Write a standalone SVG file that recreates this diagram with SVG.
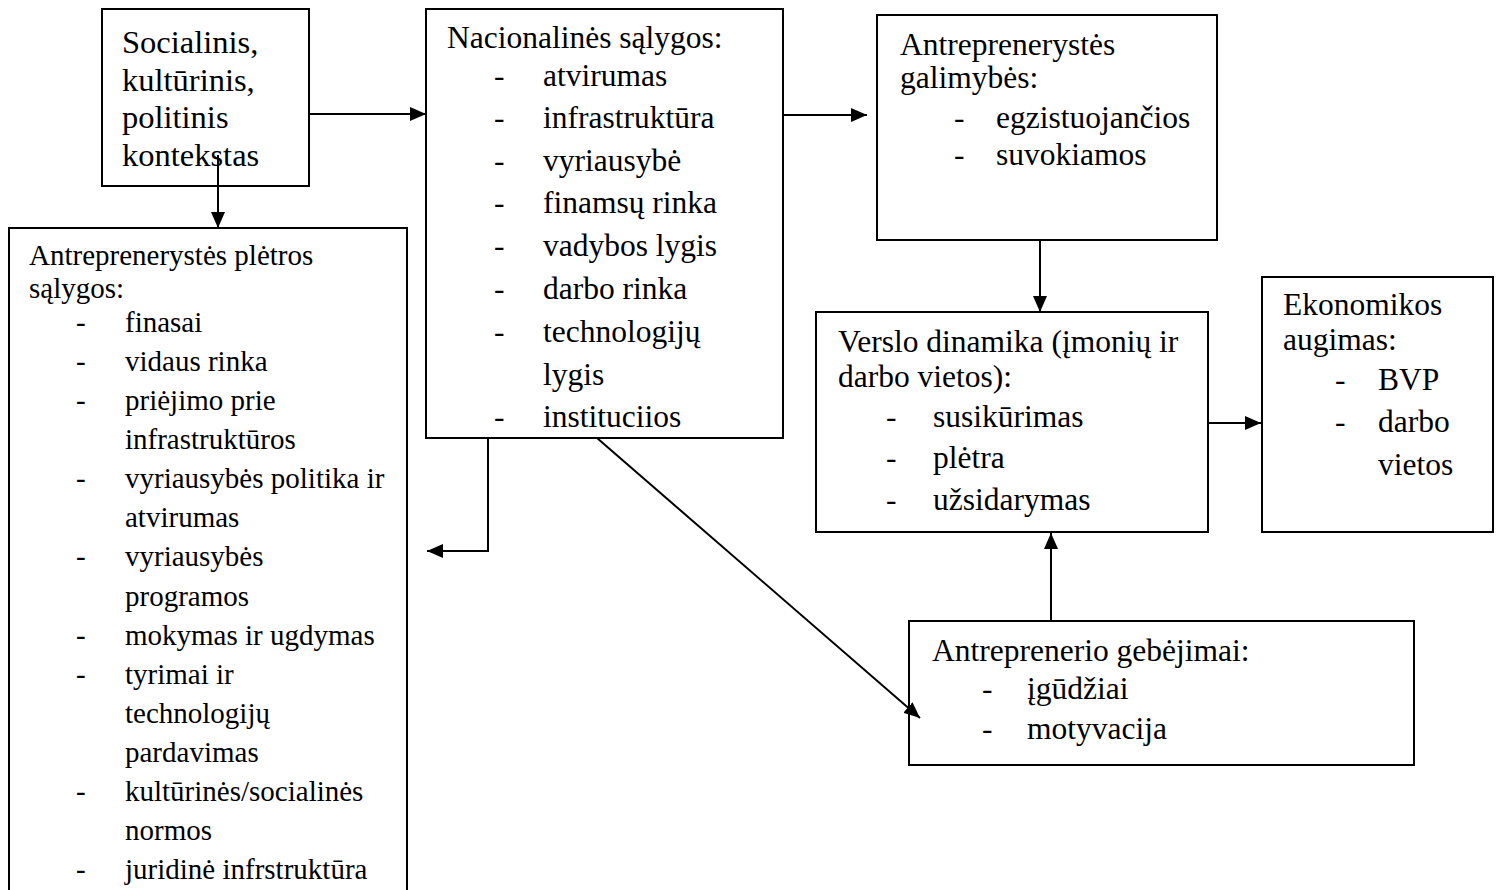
<svg xmlns="http://www.w3.org/2000/svg" width="1499" height="890" viewBox="0 0 1499 890">
<style>
.box{fill:#fff;stroke:#000;stroke-width:2}
.t{font-family:"Liberation Serif","Times New Roman",serif;font-size:31.5px;fill:#000}
.s{font-size:29px}
.b{font-size:32.5px}
.c{fill:none;stroke:#000;stroke-width:2}
</style>
<defs>
<marker id="ah" markerUnits="userSpaceOnUse" markerWidth="16" markerHeight="14" refX="16" refY="7" orient="auto">
<path d="M0,0 L16,7 L0,14 z" fill="#000"/>
</marker>
</defs>
<rect width="1499" height="890" fill="#fff"/>

<g id="n-kontekstas">
<rect class="box" x="102" y="9" width="207" height="177"/>
<text class="t b" x="122" y="53">Socialinis,</text>
<text class="t b" x="122" y="91">kultūrinis,</text>
<text class="t b" x="122" y="128">politinis</text>
<text class="t b" x="122" y="166">kontekstas</text>
</g>

<g id="n-nacionalines">
<rect class="box" x="426" y="9" width="357" height="429"/>
<text class="t" x="447" y="48">Nacionalinės sąlygos:</text>
<g class="t">
<text x="494" y="86">-</text><text x="543" y="86">atvirumas</text>
<text x="494" y="128">-</text><text x="543" y="128">infrastruktūra</text>
<text x="494" y="171">-</text><text x="543" y="171">vyriausybė</text>
<text x="494" y="213">-</text><text x="543" y="213">finamsų rinka</text>
<text x="494" y="256">-</text><text x="543" y="256">vadybos lygis</text>
<text x="494" y="299">-</text><text x="543" y="299">darbo rinka</text>
<text x="494" y="342">-</text><text x="543" y="342">technologijų</text>
<text x="543" y="385">lygis</text>
<text x="494" y="427">-</text><text x="543" y="427">instituciios</text>
</g>
</g>

<g id="n-pletros-salygos">
<rect class="box" x="9" y="228" width="398" height="700"/>
<g class="t s">
<text x="29" y="265">Antreprenerystės plėtros</text>
<text x="29" y="298">sąlygos:</text>
<text x="76" y="332">-</text><text x="125" y="332">finasai</text>
<text x="76" y="371">-</text><text x="125" y="371">vidaus rinka</text>
<text x="76" y="410">-</text><text x="125" y="410">priėjimo prie</text>
<text x="125" y="449">infrastruktūros</text>
<text x="76" y="488">-</text><text x="125" y="488">vyriausybės politika ir</text>
<text x="125" y="527">atvirumas</text>
<text x="76" y="566">-</text><text x="125" y="566">vyriausybės</text>
<text x="125" y="606">programos</text>
<text x="76" y="645">-</text><text x="125" y="645">mokymas ir ugdymas</text>
<text x="76" y="684">-</text><text x="125" y="684">tyrimai ir</text>
<text x="125" y="723">technologijų</text>
<text x="125" y="762">pardavimas</text>
<text x="76" y="801">-</text><text x="125" y="801">kultūrinės/socialinės</text>
<text x="125" y="840">normos</text>
<text x="76" y="879">-</text><text x="125" y="879">juridinė infrstruktūra</text>
</g>
</g>

<g id="n-galimybes">
<rect class="box" x="877" y="15" width="340" height="225"/>
<g class="t">
<text x="900" y="55">Antreprenerystės</text>
<text x="900" y="88">galimybės:</text>
<text x="954" y="128">-</text><text x="996" y="128">egzistuojančios</text>
<text x="954" y="165">-</text><text x="996" y="165">suvokiamos</text>
</g>
</g>

<g id="n-verslo-dinamika">
<rect class="box" x="816" y="312" width="392" height="220"/>
<g class="t">
<text x="838" y="352">Verslo dinamika (įmonių ir</text>
<text x="838" y="387">darbo vietos):</text>
<text x="886" y="427">-</text><text x="933" y="427">susikūrimas</text>
<text x="886" y="468">-</text><text x="933" y="468">plėtra</text>
<text x="886" y="510">-</text><text x="933" y="510">užsidarymas</text>
</g>
</g>

<g id="n-ekonomikos-augimas">
<rect class="box" x="1262" y="277" width="231" height="255"/>
<g class="t">
<text x="1283" y="315">Ekonomikos</text>
<text x="1283" y="350">augimas:</text>
<text x="1335" y="390">-</text><text x="1378" y="390">BVP</text>
<text x="1335" y="432">-</text><text x="1378" y="432">darbo</text>
<text x="1378" y="475">vietos</text>
</g>
</g>

<g id="n-gebejimai">
<rect class="box" x="909" y="621" width="505" height="144"/>
<g class="t">
<text x="932" y="661">Antreprenerio gebėjimai:</text>
<text x="982" y="699">-</text><text x="1027" y="699">įgūdžiai</text>
<text x="982" y="739">-</text><text x="1027" y="739">motyvacija</text>
</g>
</g>

<g id="connectors">
<path class="c" d="M309,114 L426,114" marker-end="url(#ah)"/>
<path class="c" d="M218,155 L218,228" marker-end="url(#ah)"/>
<path class="c" d="M783,115 L867,115" marker-end="url(#ah)"/>
<path class="c" d="M1040,240 L1040,312" marker-end="url(#ah)"/>
<path class="c" d="M1208,423 L1261,423" marker-end="url(#ah)"/>
<path class="c" d="M1051,621 L1051,533" marker-end="url(#ah)"/>
<path class="c" d="M488,438 L488,551 L427,551" marker-end="url(#ah)"/>
<path class="c" d="M597,438 L920,718" marker-end="url(#ah)"/>
</g>
</svg>
